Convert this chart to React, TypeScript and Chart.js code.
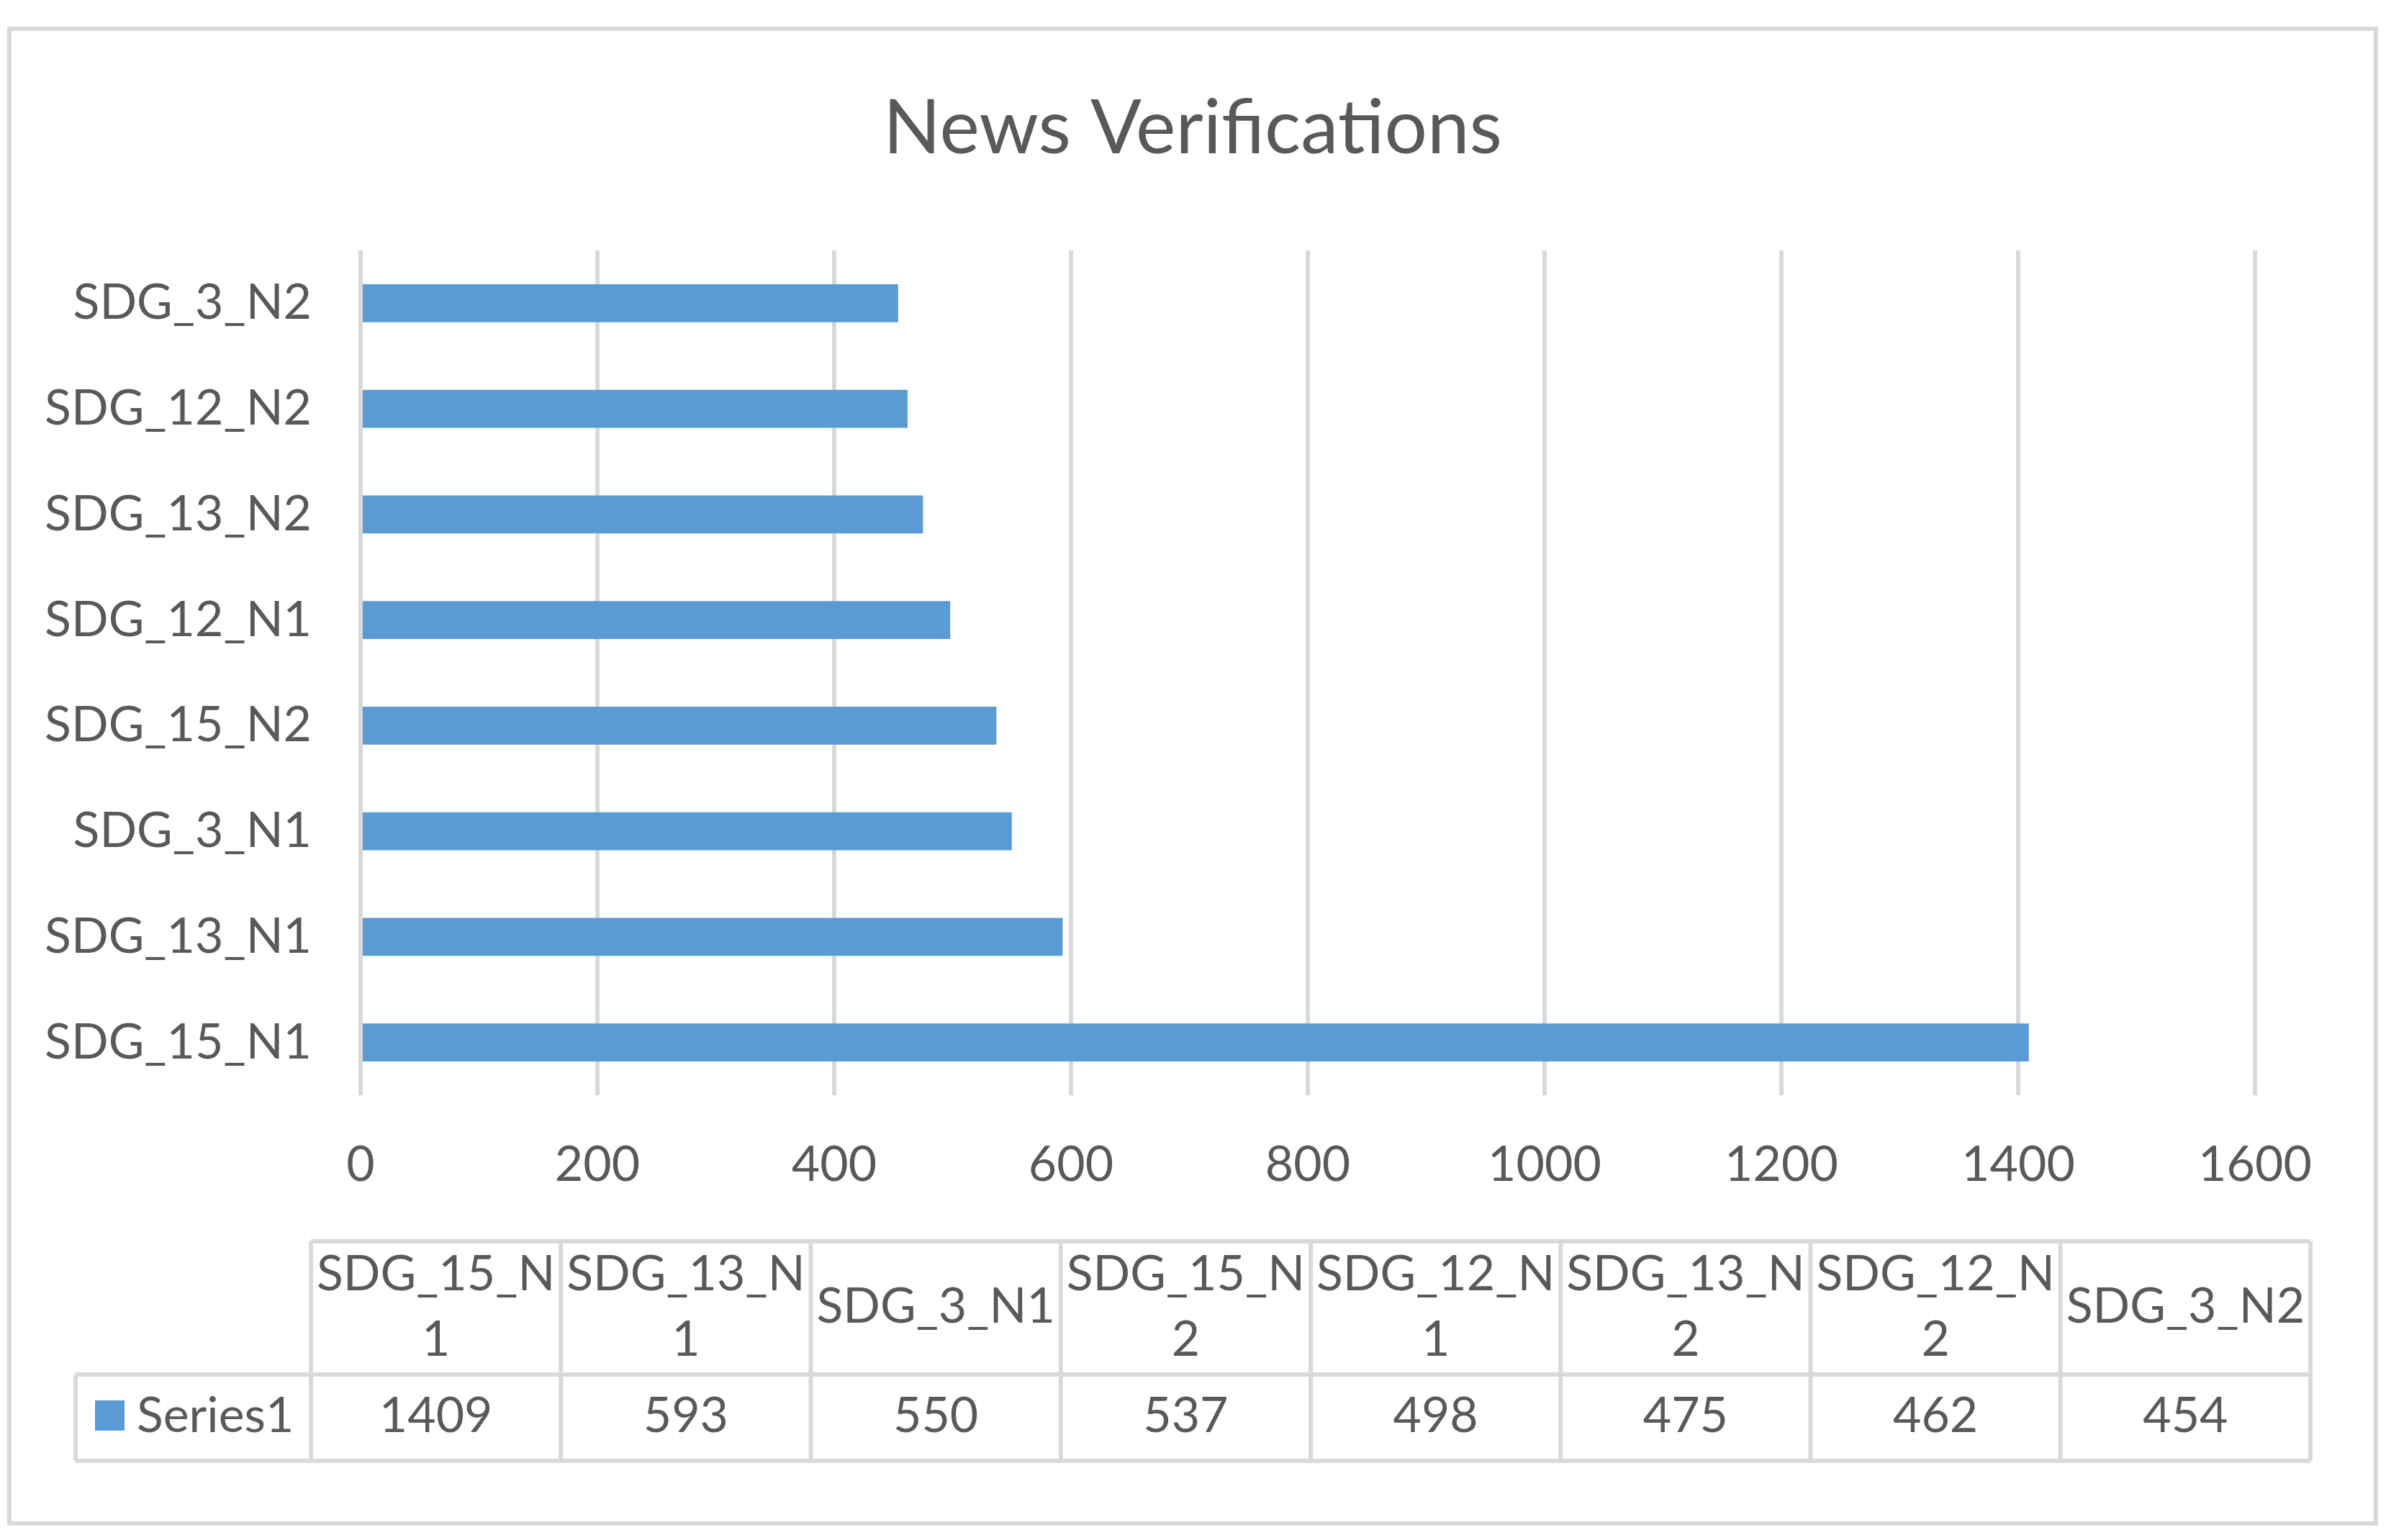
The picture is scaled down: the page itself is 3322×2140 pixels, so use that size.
import React, { useEffect, useRef } from "react";
import { Chart, registerables } from "chart.js";

Chart.register(...registerables);

// ---------- data ----------
const TITLE = "News Verifications";
const CATEGORIES = [
  "SDG_15_N1",
  "SDG_13_N1",
  "SDG_3_N1",
  "SDG_15_N2",
  "SDG_12_N1",
  "SDG_13_N2",
  "SDG_12_N2",
  "SDG_3_N2",
];
const SERIES_NAME = "Series1";
const VALUES = [1409, 593, 550, 537, 498, 475, 462, 454];
const X_MIN = 0;
const X_MAX = 1600;
const X_STEP = 200;

// ---------- layout / style ----------
const W = 3322;
const H = 2140;
const FONT = "Lato, 'Open Sans', sans-serif";
const TEXT = "#595959";
const GRID = "#d9d9d9";
const BAR = "#5b9bd5";
const PLOT_TOP = 348;
const PLOT_BOTTOM = 1522;
const PLOT_LEFT = 501;
const PLOT_RIGHT = 3133;
const TICK_SIZE = 68;
const TITLE_SIZE = 105;

const TABLE_LEFT = 432;
const TABLE_RIGHT = 3210;
const TABLE_TOP = 1725;
const TABLE_MID = 1910;
const TABLE_BOTTOM = 2030;
const LEGEND_LEFT = 105;

function wrapChars(ctx: CanvasRenderingContext2D, text: string, maxW: number): string[] {
  if (ctx.measureText(text).width <= maxW) return [text];
  const lines: string[] = [];
  let cur = "";
  for (const ch of text) {
    if (cur && ctx.measureText(cur + ch).width > maxW) {
      lines.push(cur);
      cur = ch;
    } else {
      cur += ch;
    }
  }
  if (cur) lines.push(cur);
  return lines;
}

const decorPlugin = {
  id: "decor",
  beforeDraw(chart: any) {
    const ctx = chart.ctx as CanvasRenderingContext2D;
    ctx.save();
    ctx.fillStyle = "#ffffff";
    ctx.fillRect(0, 0, W, H);
    ctx.restore();
  },
  afterDraw(chart: any) {
    const ctx = chart.ctx as CanvasRenderingContext2D;
    ctx.save();
    // outer border
    ctx.strokeStyle = GRID;
    ctx.lineWidth = 6;
    ctx.strokeRect(13, 40, 3288, 2077);

    // title
    ctx.fillStyle = TEXT;
    ctx.font = `${TITLE_SIZE}px ${FONT}`;
    ctx.textAlign = "center";
    ctx.textBaseline = "alphabetic";
    ctx.fillText(TITLE, W / 2 - 4, 213);

    // data table
    const n = CATEGORIES.length;
    const colW = (TABLE_RIGHT - TABLE_LEFT) / n;
    ctx.strokeStyle = GRID;
    ctx.lineWidth = 6;
    ctx.beginPath();
    ctx.moveTo(TABLE_LEFT, TABLE_TOP);
    ctx.lineTo(TABLE_RIGHT, TABLE_TOP);
    ctx.moveTo(LEGEND_LEFT, TABLE_MID);
    ctx.lineTo(TABLE_RIGHT, TABLE_MID);
    ctx.moveTo(LEGEND_LEFT, TABLE_BOTTOM);
    ctx.lineTo(TABLE_RIGHT, TABLE_BOTTOM);
    ctx.moveTo(LEGEND_LEFT, TABLE_MID);
    ctx.lineTo(LEGEND_LEFT, TABLE_BOTTOM);
    for (let i = 0; i <= n; i++) {
      const x = TABLE_LEFT + i * colW;
      ctx.moveTo(x, TABLE_TOP);
      ctx.lineTo(x, TABLE_BOTTOM);
    }
    ctx.stroke();

    ctx.fillStyle = TEXT;
    ctx.font = `${TICK_SIZE}px ${FONT}`;
    ctx.textAlign = "center";
    ctx.textBaseline = "alphabetic";
    const lineGap = 91;
    for (let i = 0; i < n; i++) {
      const cx = TABLE_LEFT + (i + 0.5) * colW;
      const lines = wrapChars(ctx, CATEGORIES[i], colW - 10);
      const baseMid = 1838; // baseline for a single centred line
      const first = baseMid - ((lines.length - 1) * lineGap) / 2;
      lines.forEach((ln, k) => ctx.fillText(ln, cx, first + k * lineGap));
      ctx.fillText(String(VALUES[i]), cx, 1990);
    }
    // legend key + series name
    ctx.fillStyle = BAR;
    ctx.fillRect(132, 1946, 41, 42);
    ctx.fillStyle = TEXT;
    ctx.textAlign = "left";
    ctx.fillText(SERIES_NAME, 190, 1990);
    ctx.restore();
  },
};

export default function App() {
  const ref = useRef<HTMLCanvasElement | null>(null);
  useEffect(() => {
    if (!ref.current) return;
    const chart = new Chart(ref.current, {
      type: "bar",
      data: {
        labels: CATEGORIES,
        datasets: [
          {
            label: SERIES_NAME,
            data: VALUES,
            backgroundColor: BAR,
            borderWidth: 0,
            barPercentage: 0.361,
            categoryPercentage: 1,
          },
        ],
      },
      options: {
        indexAxis: "y",
        animation: false,
        responsive: false,
        devicePixelRatio: 1,
        layout: { padding: { top: PLOT_TOP, right: W - PLOT_RIGHT, left: 0, bottom: 0 } },
        plugins: {
          legend: { display: false },
          title: { display: false },
          tooltip: { enabled: false },
        },
        scales: {
          x: {
            type: "linear",
            position: "bottom",
            min: X_MIN,
            max: X_MAX,
            ticks: {
              stepSize: X_STEP,
              color: TEXT,
              font: { family: FONT, size: TICK_SIZE },
              padding: 56,
              maxRotation: 0,
              autoSkip: false,
              callback: (v: any) => String(v),
            },
            grid: { color: GRID, lineWidth: 6, drawTicks: false },
            border: { display: false },
            afterFit: (s: any) => {
              s.height = H - PLOT_BOTTOM;
            },
          },
          y: {
            type: "category",
            reverse: true,
            ticks: {
              color: TEXT,
              font: { family: FONT, size: TICK_SIZE },
              padding: 68,
              autoSkip: false,
            },
            grid: { display: false, drawTicks: false },
            border: { display: false },
            afterFit: (s: any) => {
              s.width = PLOT_LEFT;
            },
          },
        },
      },
      plugins: [decorPlugin],
    } as any);
    return () => chart.destroy();
  }, []);
  return (
    <div style={{ position: "absolute", left: 0, top: 0, width: W, height: H, background: "#fff" }}>
      <canvas ref={ref} width={W} height={H} style={{ width: W, height: H, display: "block" }} />
    </div>
  );
}
